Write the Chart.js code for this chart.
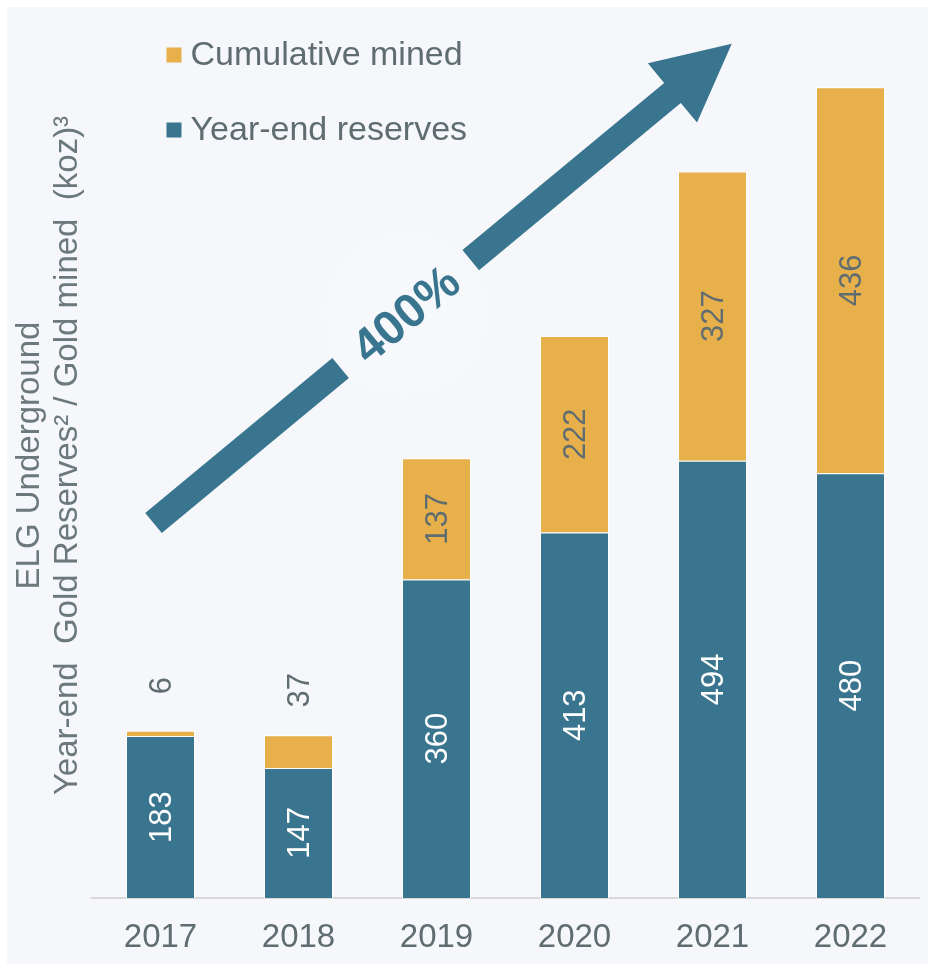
<!DOCTYPE html>
<html><head><meta charset="utf-8">
<script src="https://cdn.jsdelivr.net/npm/chart.js@4"></script>
<style>html,body{margin:0;padding:0;background:#fff;overflow:hidden}canvas{display:block}</style>
</head><body>
<canvas id="c" width="928" height="964"></canvas>
<script>
const categories = ['2017', '2018', '2019', '2020', '2021', '2022'];
const reserves = [183, 147, 360, 413, 494, 480];
const mined = [6, 37, 137, 222, 327, 436];
const seriesNames = ['Year-end reserves', 'Cumulative mined'];
const yTitleLines = ['ELG Underground', 'Year-end  Gold Reserves\u00B2 / Gold mined  (koz)\u00B3'];
const growthLabel = '400%';

const TEAL = '#3a758f';
const GOLD = '#e8b04a';
const GREY = '#5f6d70';
const FONT = '"Liberation Sans", Arial, Helvetica, sans-serif';

const bgPlugin = {
  id: 'bg',
  beforeDraw(chart) {
    const ctx = chart.ctx;
    ctx.save();
    ctx.fillStyle = '#ffffff';
    ctx.fillRect(0, 0, chart.width, chart.height);
    ctx.fillStyle = '#f5f7fb';
    ctx.fillRect(7, 7, chart.width - 7, chart.height - 7);
    ctx.restore();
  }
};

const arrowPlugin = {
  id: 'arrow',
  beforeDatasetsDraw(chart) {
    const ctx = chart.ctx;
    const a = chart.chartArea;
    const tx = a.left + 62, ty = a.top + 510;
    const ang = Math.atan2(-430.5, 519.5);
    const hw = 13, headHw = 38.5, headS = 674, tipS = 751;
    const gapA = 243, gapB = 412;
    ctx.save();
    ctx.translate(tx, ty);
    ctx.rotate(ang);
    ctx.fillStyle = TEAL;
    ctx.fillRect(0, -hw, gapA, hw * 2);
    ctx.beginPath();
    ctx.moveTo(gapB, -hw);
    ctx.lineTo(headS, -hw);
    ctx.lineTo(headS, -headHw);
    ctx.lineTo(tipS, 0);
    ctx.lineTo(headS, headHw);
    ctx.lineTo(headS, hw);
    ctx.lineTo(gapB, hw);
    ctx.closePath();
    ctx.fill();
    const mid = (gapA + gapB) / 2;
    ctx.beginPath();
    ctx.arc(mid, 0, 82, 0, Math.PI * 2);
    ctx.fillStyle = 'rgba(255,255,255,0.18)';
    ctx.fill();
    ctx.fillStyle = TEAL;
    ctx.font = 'bold 48px ' + FONT;
    ctx.textAlign = 'center';
    ctx.textBaseline = 'middle';
    ctx.fillText(growthLabel, mid, 3);
    ctx.restore();
  }
};

const labelPlugin = {
  id: 'barLabels',
  afterDatasetsDraw(chart) {
    const ctx = chart.ctx;
    ctx.save();
    ctx.font = '31px ' + FONT;
    ctx.textAlign = 'center';
    ctx.textBaseline = 'middle';
    chart.data.datasets.forEach((ds, di) => {
      const meta = chart.getDatasetMeta(di);
      meta.data.forEach((bar, i) => {
        const v = ds.data[i];
        const h = Math.abs(bar.base - bar.y);
        let cy, color;
        if (h < 60) {
          cy = Math.min(bar.y, bar.base) - 45;
          color = GREY;
        } else {
          cy = (bar.y + bar.base) / 2;
          color = di === 0 ? '#ffffff' : GREY;
        }
        ctx.save();
        ctx.translate(bar.x, cy);
        ctx.rotate(-Math.PI / 2);
        ctx.fillStyle = color;
        ctx.fillText(String(v), 0, 2);
        ctx.restore();
      });
    });
    ctx.restore();
  }
};

const legendPlugin = {
  id: 'customLegend',
  afterDraw(chart) {
    const ctx = chart.ctx;
    const a = chart.chartArea;
    const order = [1, 0];
    ctx.save();
    ctx.font = '34px ' + FONT;
    ctx.textBaseline = 'middle';
    ctx.textAlign = 'left';
    order.forEach((di, k) => {
      const ds = chart.data.datasets[di];
      const x = a.left + 75;
      const y = a.top + 42 + k * 75;
      ctx.fillStyle = ds.backgroundColor;
      ctx.fillRect(x, y - 7.5, 15, 15);
      ctx.fillStyle = GREY;
      ctx.fillText(ds.label, x + 24, y + 1);
    });
    ctx.restore();
  }
};

new Chart(document.getElementById('c'), {
  type: 'bar',
  data: {
    labels: categories,
    datasets: [
      { label: seriesNames[0], data: reserves, backgroundColor: TEAL, borderColor: '#ffffff', borderWidth: 1 },
      { label: seriesNames[1], data: mined, backgroundColor: GOLD, borderColor: '#ffffff', borderWidth: 1 }
    ]
  },
  options: {
    responsive: false,
    animation: false,
    devicePixelRatio: 1,
    datasets: { bar: { categoryPercentage: 1, barPercentage: 0.5 } },
    layout: { padding: { top: 13, right: 8.5, left: 0, bottom: 0 } },
    plugins: { legend: { display: false }, tooltip: { enabled: false } },
    scales: {
      x: {
        stacked: true,
        grid: { display: false, drawTicks: false },
        border: { display: true, color: '#d9d9d9', width: 2 },
        ticks: { color: GREY, font: { family: FONT, size: 33 }, padding: 20 },
        afterFit(s) { s.height = 66; }
      },
      y: {
        stacked: true,
        min: 0, max: 1000,
        grid: { display: false },
        border: { display: false },
        ticks: { display: false },
        title: {
          display: true,
          text: yTitleLines,
          color: '#6b797c',
          font: { family: FONT, size: 33, lineHeight: 1.15 },
          padding: { top: 10.5, bottom: 0 }
        },
        afterFit(s) { s.width = 91.5; }
      }
    }
  },
  plugins: [bgPlugin, arrowPlugin, labelPlugin, legendPlugin]
});
</script>
</body></html>
